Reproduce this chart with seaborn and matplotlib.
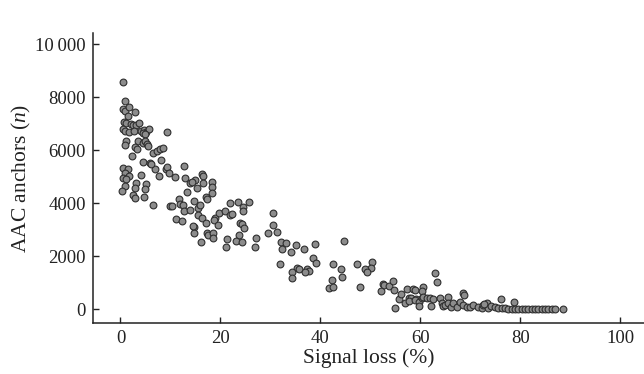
import matplotlib
matplotlib.use("Agg")
import matplotlib.pyplot as plt
from matplotlib.ticker import FuncFormatter
import seaborn as sns
import pandas as pd

# values
signal_loss = [
    0.5, 0.9, 0.5, 0.9, 1.7, 2.9, 1.5, 0.7, 1.1, 2.1, 2.5, 3.1, 3.7, 0.5, 0.9, 1.7,
    2.7, 4.1, 4.7, 5.1, 5.7, 4.5, 4.9, 9.3, 1.1, 0.9, 3.5, 4.5, 4.9, 5.3, 5.5, 2.9,
    3.3, 6.5, 7.3, 7.9, 8.5, 2.3, 4.5, 5.9, 8.1, 12.7, 0.5, 1.5, 6.9, 9.1,
    0.9, 1.7, 0.5, 1.1, 0.9, 0.3, 4.1, 3.1, 2.9, 2.5, 2.9, 4.7, 5.1, 4.9, 6.1, 7.7,
    9.3, 9.7, 10.9, 12.9, 13.9, 14.9, 13.3, 14.7, 15.5, 6.5, 9.9, 10.3, 11.7, 11.9,
    12.5, 12.7, 13.9, 11.1, 12.3, 14.7, 14.7,
    16.3, 16.5, 14.3, 16.5, 18.3, 18.3, 15.3, 18.3, 17.1, 17.3, 15.9, 15.5, 16.3,
    14.5, 17.1, 17.3, 17.5, 18.5, 18.5, 16.1, 18.9, 18.7, 19.7, 20.9, 21.9, 21.9,
    22.3, 23.5, 24.5, 24.5, 25.7, 19.5, 23.9, 24.3, 24.7, 30.5, 30.5, 31.3, 29.5,
    23.7, 23.1, 24.3, 27.1, 26.9, 21.3, 21.1, 32.1, 33.1, 32.3,
    35.1, 36.7, 38.9, 34.1, 44.7, 38.5, 39.1, 42.5, 44.1, 47.3, 50.3, 50.1, 48.9,
    49.3, 31.9, 35.3, 35.7, 37.3, 37.7, 36.9, 34.3, 34.3, 44.3, 42.3,
    41.7, 42.5, 47.9, 52.1, 52.5, 52.7, 53.7, 54.5, 54.7, 54.9, 55.7, 56.2, 56.9,
    57.3, 57.7, 58.1, 58.5, 59.1,
    62.9, 63.3, 60.5, 60.3, 59.0, 57.7, 58.9, 59.7, 60.3, 60.5, 59.7, 61.3, 61.9,
    62.5, 62.1, 63.9, 64.3, 64.5, 64.9, 65.5, 65.5, 66.1, 66.5, 67.3, 67.9, 68.5,
    68.7, 68.5, 69.3, 69.9, 70.5, 71.5, 72.3, 72.5, 73.3, 73.5,
    76.1, 78.7, 72.7, 74.1, 74.9, 75.5, 76.3, 76.9, 77.5, 78.3, 78.9, 79.5, 80.3,
    80.9, 81.5, 82.3, 82.9, 83.5, 84.3, 84.9, 85.5, 86.3, 86.9, 88.5,
]
aac_anchors = [
    8580, 7860, 7560, 7480, 7630, 7450, 7300, 7070, 7030, 6990, 6950, 6950, 7030, 6800, 6730, 6690,
    6730, 6730, 6770, 6690, 6800, 6650, 6620, 6690, 6350, 6200, 6350, 6270, 6350, 6240, 6160, 6120,
    6050, 5900, 5970, 6050, 6090, 5780, 5560, 5520, 5630, 5400, 5330, 5290, 5290, 5290,
    5140, 5030, 4950, 4910, 4650, 4460, 5070, 4760, 4570, 4310, 4200, 4230, 4730, 4540, 5480, 5030,
    5370, 5140, 4990, 4950, 4760, 4880, 4420, 4080, 3820, 3930, 3890, 3890, 4160, 3970,
    3930, 3700, 3740, 3400, 3330, 3100, 2870,
    5100, 5030, 4800, 4760, 4800, 4610, 4570, 4380, 4230, 4160, 3930, 3550, 3440,
    3140, 3250, 2870, 2800, 2870, 2680, 2530, 3440, 3360, 3630, 3700, 4010, 3550,
    3590, 4040, 3860, 3700, 4040, 3180, 3250, 3210, 3060, 3630, 3180, 2910, 2870,
    2800, 2570, 2530, 2680, 2340, 2650, 2340, 2530, 2500, 2270,
    2420, 2270, 2460, 2150, 2570, 1930, 1740, 1700, 1510, 1700, 1780, 1550, 1510,
    1400, 1700, 1550, 1510, 1510, 1440, 1400, 1400, 1170, 1210, 1100,
    790, 830, 830, 680, 945, 900, 870, 1060, 720, 40, 380, 570, 230,
    760, 420, 420, 760, 380,
    1360, 1020, 830, 680, 720, 300, 340, 265, 420, 450, 115, 420, 420,
    380, 115, 420, 230, 115, 150, 450, 230, 75, 230, 75, 265, 600,
    530, 150, 75, 75, 150, 75, 40, 150, 230, 40,
    380, 265, 190, 115, 75, 40, 40, 40, 20, 0, 0, 0, 0,
    0, 0, 0, 0, 0, 0, 0, 0, 0, 0, 0,
]
x_ticks = [0, 20, 40, 60, 80, 100]
y_ticks = [0, 2000, 4000, 6000, 8000, 10000]

df = pd.DataFrame({"loss": signal_loss, "anchors": aac_anchors})

sns.set_style("ticks")
plt.rcParams["font.family"] = ["Liberation Serif", "DejaVu Serif"]
plt.rcParams["mathtext.fontset"] = "custom"
plt.rcParams["mathtext.it"] = "Liberation Serif:italic"
plt.rcParams["mathtext.rm"] = "Liberation Serif"

fig = plt.figure(figsize=(6.44, 3.74), dpi=100)
ax = fig.add_axes([0.1444, 0.1356, 0.8556, 0.777])

sns.scatterplot(data=df, x="loss", y="anchors", ax=ax, s=24,
                color="#8c8c8c", edgecolor="#2e2e2e", linewidth=0.8, zorder=3)

ax.set_xlim(-5.5, 104.7)
ax.set_ylim(-530, 10440)
ax.set_xticks(x_ticks)
ax.set_yticks(y_ticks)
ax.yaxis.set_major_formatter(FuncFormatter(
    lambda v, p: f"{int(v):,}".replace(",", "\u2009") if v >= 10000 else f"{int(v)}"))

sns.despine(ax=ax)
for side in ["left", "bottom"]:
    ax.spines[side].set_color("#222222")
    ax.spines[side].set_linewidth(1.1)
ax.tick_params(direction="in", length=4, width=1.0, color="#222222",
               labelsize=13.5, labelcolor="#222222", pad=5)

ax.set_xlabel("Signal loss (%)", fontsize=15.5, color="#222222", labelpad=1)
ax.set_ylabel("AAC anchors ($n$)", fontsize=15.5, color="#222222", labelpad=2)

fig.savefig("out.png", dpi=100)
